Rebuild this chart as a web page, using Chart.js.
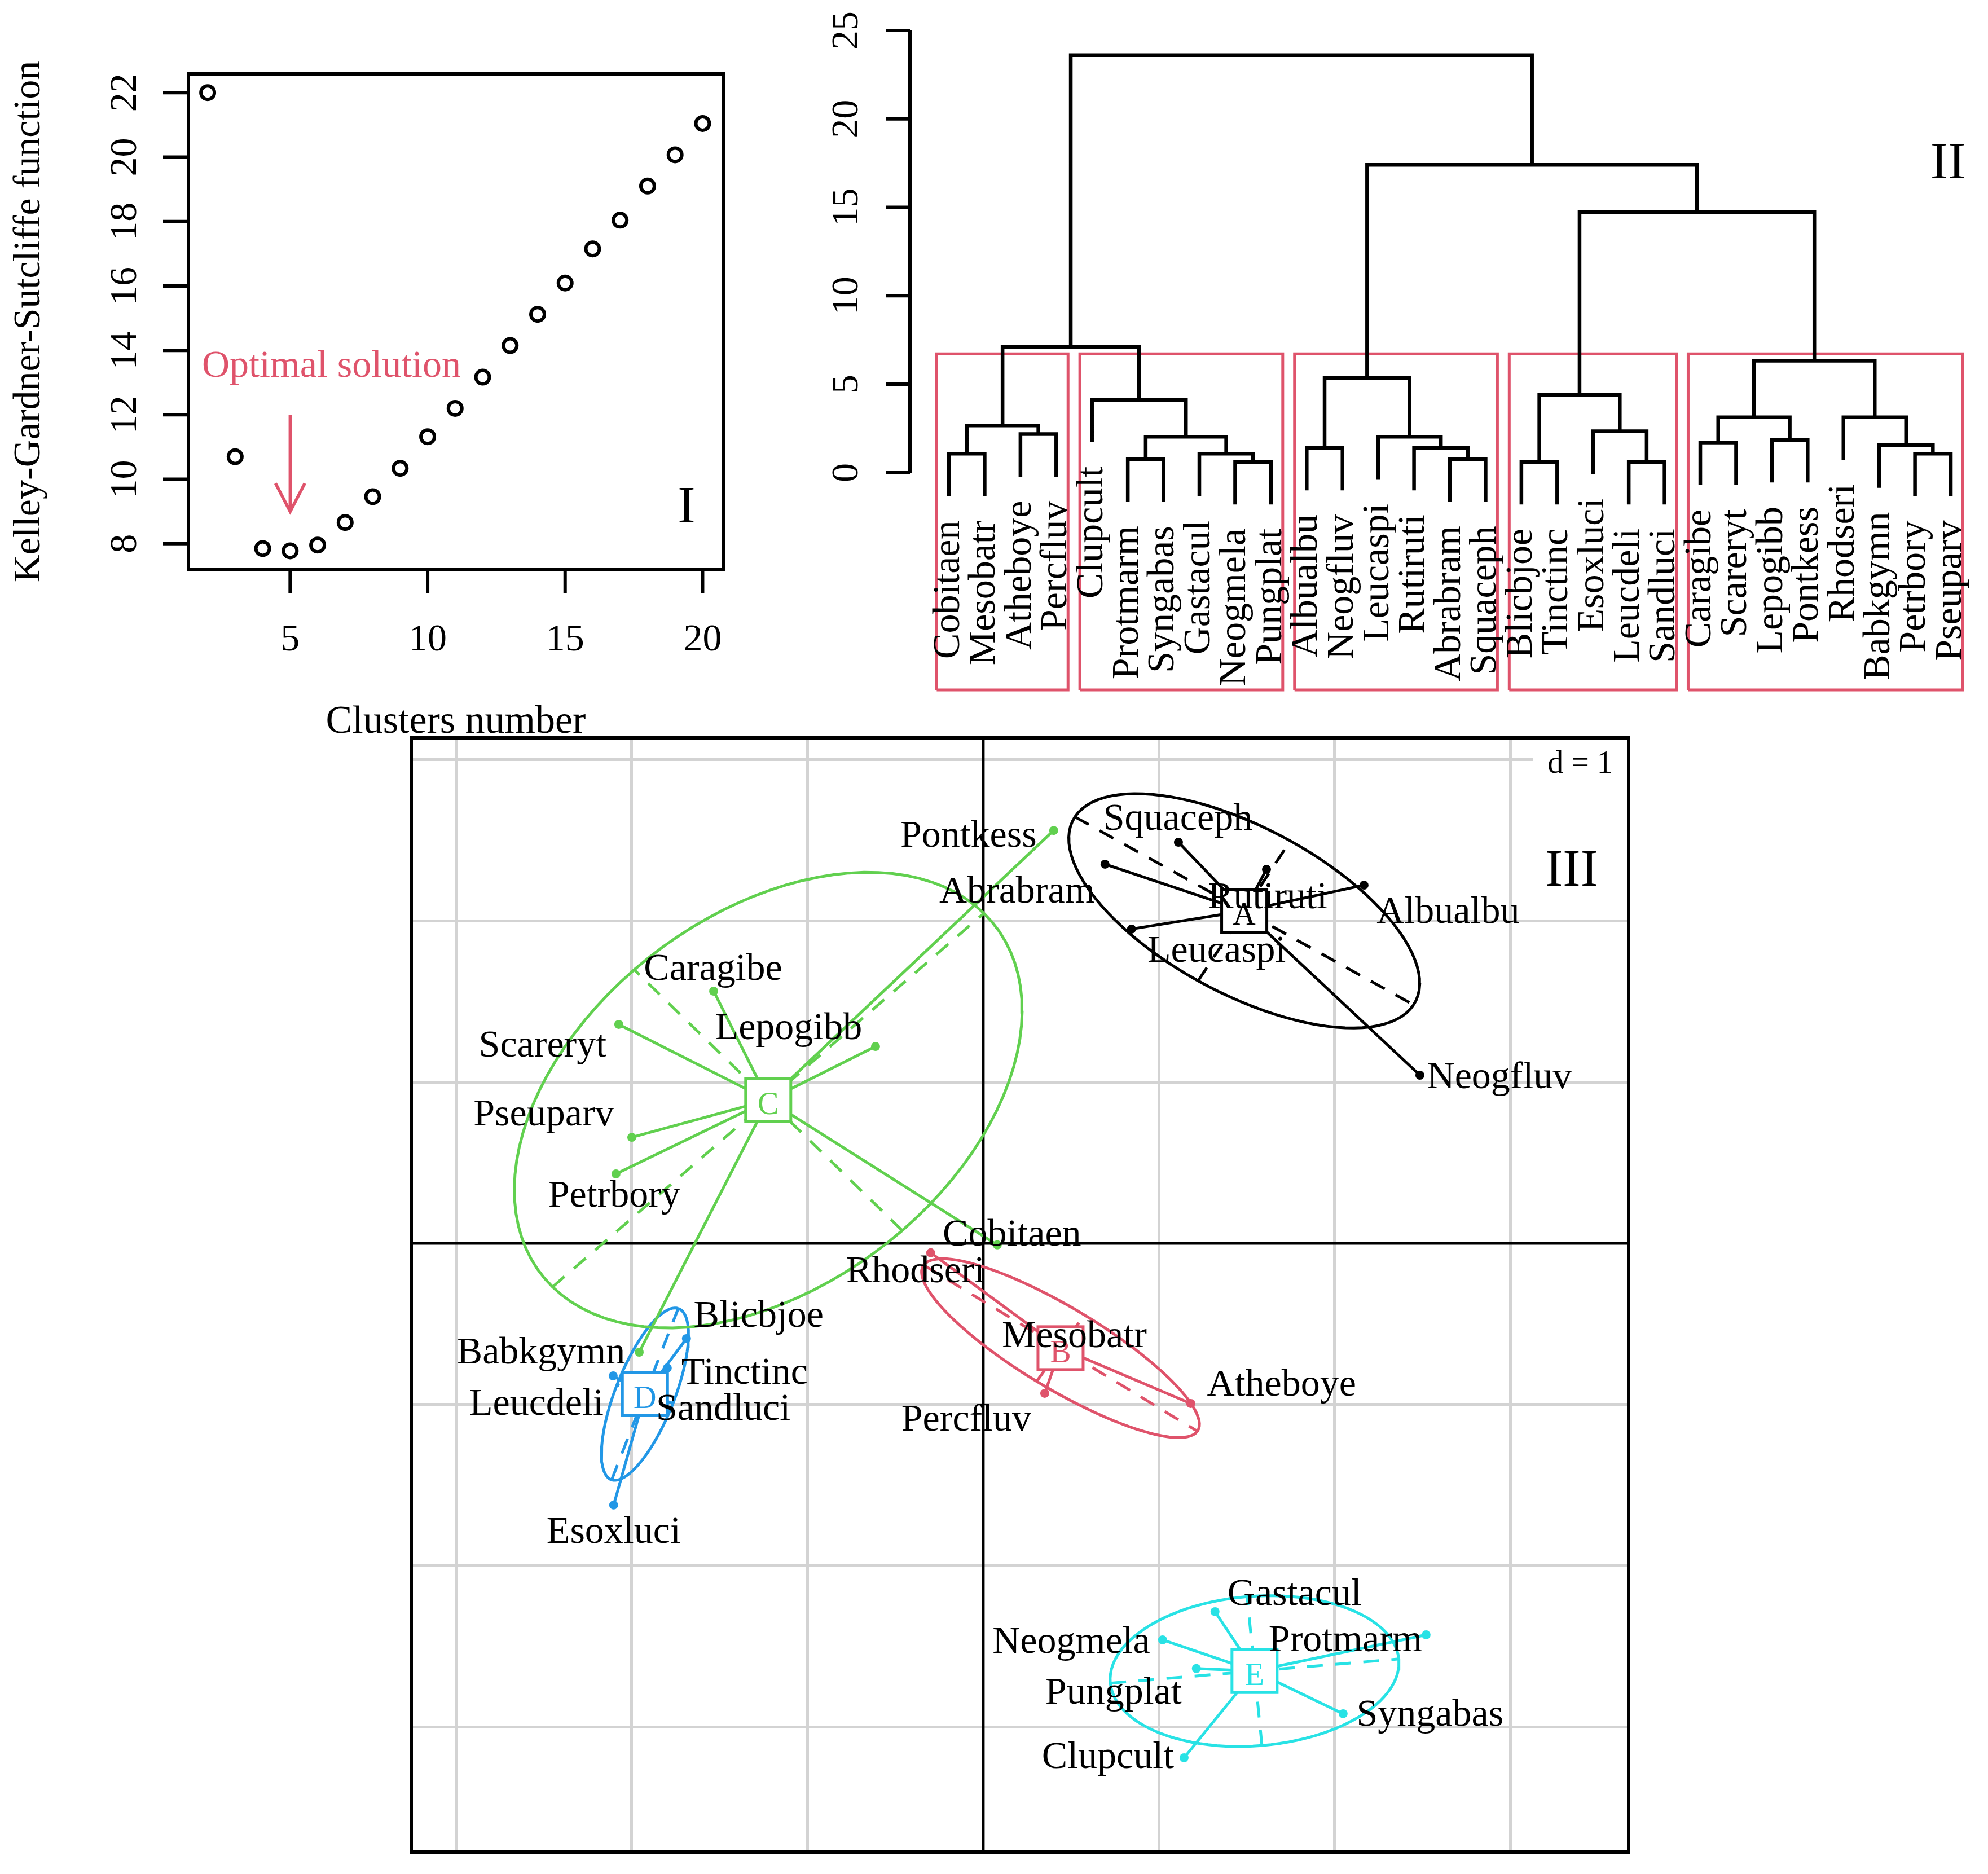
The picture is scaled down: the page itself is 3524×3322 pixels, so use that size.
<!DOCTYPE html>
<html>
<head>
<meta charset="utf-8">
<script src="https://cdn.jsdelivr.net/npm/chart.js@4.4.0/dist/chart.umd.min.js"></script>
<style>
  body { margin: 0; background: #fff; width: 3524px; height: 3322px; position: relative; overflow: hidden; }
  canvas { position: absolute; }
</style>
</head>
<body>
<canvas id="kgs" width="1400" height="1340" style="left:0px;top:0px"></canvas>
<canvas id="dendro" width="2124" height="1250" style="left:1400px;top:0px"></canvas>
<canvas id="classes" width="2300" height="2032" style="left:650px;top:1290px"></canvas>
<script>
// ---- panel I : Kelley-Gardner-Sutcliffe penalty ----
const kgsK = [2, 3, 4, 5, 6, 7, 8, 9, 10, 11, 12, 13, 14, 15, 16, 17, 18, 19, 20];
const kgsValue = [22.0, 10.7, 7.85, 7.78, 7.96, 8.66, 9.46, 10.34, 11.32, 12.2, 13.17, 14.15, 15.12, 16.09, 17.15, 18.04, 19.1, 20.07, 21.04];
const kgsXTicks = [5, 10, 15, 20];
const kgsYTicks = [8, 10, 12, 14, 16, 18, 20, 22];
const optimalK = 5;

// ---- panel II : dendrogram (leaves in plotted order, R-style merge matrix) ----
const leafLabels = ["Cobitaen", "Mesobatr", "Atheboye", "Percfluv", "Clupcult", "Protmarm", "Syngabas",
  "Gastacul", "Neogmela", "Pungplat", "Albualbu", "Neogfluv", "Leucaspi", "Rutiruti", "Abrabram",
  "Squaceph", "Blicbjoe", "Tinctinc", "Esoxluci", "Leucdeli", "Sandluci", "Caragibe", "Scareryt",
  "Lepogibb", "Pontkess", "Rhodseri", "Babkgymn", "Petrbory", "Pseuparv"];
const hcMerge = [[-1, -2], [-3, -4], [1, 2], [-6, -7], [-9, -10], [-8, 5], [4, 6], [-5, 7], [3, 8],
  [-11, -12], [-15, -16], [-14, 11], [-13, 12], [10, 13], [-17, -18], [-20, -21], [-19, 16], [15, 17],
  [-22, -23], [-24, -25], [19, 20], [-28, -29], [-27, 22], [-26, 23], [21, 24], [18, 25], [14, 26], [9, 27]];
const hcHeight = [1.07, 2.18, 2.67, 0.76, 0.61, 1.07, 2.03, 4.12, 7.11, 1.40, 0.76, 1.40, 2.03, 5.36,
  0.61, 0.61, 2.34, 4.40, 1.70, 1.85, 3.13, 1.07, 1.55, 3.13, 6.33, 14.74, 17.40, 23.60];
const heightTicks = [0, 5, 10, 15, 20, 25];
const nClusters = 5;

// ---- panel III : species scores and k-means classes ----
const species = ["Cobitaen", "Mesobatr", "Atheboye", "Percfluv", "Clupcult", "Protmarm", "Syngabas",
  "Gastacul", "Neogmela", "Pungplat", "Albualbu", "Neogfluv", "Leucaspi", "Rutiruti", "Abrabram",
  "Squaceph", "Blicbjoe", "Tinctinc", "Esoxluci", "Leucdeli", "Sandluci", "Caragibe", "Scareryt",
  "Lepogibb", "Pontkess", "Rhodseri", "Babkgymn", "Petrbory", "Pseuparv"];
const axis1 = [0.080, 0.528, 1.181, 0.350, 1.143, 2.520, 2.048, 1.319, 1.021, 1.213, 2.167, 2.485, 0.844,
  1.612, 0.693, 1.111, -1.689, -1.798, -2.103, -2.106, -1.929, -1.534, -2.074, -0.613, 0.401, -0.299,
  -1.958, -2.090, -2.000];
const axis2 = [-0.010, -0.618, -0.993, -0.930, -3.189, -2.427, -2.916, -2.283, -2.458, -2.636, 2.220, 1.042,
  1.948, 2.318, 2.350, 2.486, -0.591, -0.773, -1.622, -0.822, -0.867, 1.563, 1.357, 1.220, 2.559, -0.059,
  -0.675, 0.430, 0.657];
const classOf = ["C", "B", "B", "B", "E", "E", "E", "E", "E", "E", "A", "A", "A", "A", "A", "A", "D", "D",
  "D", "D", "D", "C", "C", "C", "C", "B", "C", "C", "C"];
const classNames = ["A", "B", "C", "D", "E"];

// ---- look ----
const SERIF = '"Liberation Serif", "DejaVu Serif", serif';
const classColor = { A: "#000000", B: "#DF536B", C: "#61D04F", D: "#2297E6", E: "#28E2E5" };
const RED = "#DF536B";
// label nudges in px from the species point
const labelNudge = {
  Pontkess: [-151, 11], Abrabram: [-156, 50], Squaceph: [-1, -40], Leucaspi: [151, 40], Rutiruti: [2, 51],
  Albualbu: [149, 49], Neogfluv: [141, 5], Caragibe: [-1, -38], Lepogibb: [-154, -31], Scareryt: [-135, 39],
  Pseuparv: [-156, -39], Petrbory: [-3, 40], Cobitaen: [26, -17], Babkgymn: [-174, 2], Rhodseri: [-27, 34],
  Mesobatr: [-3, -11], Percfluv: [-139, 48], Atheboye: [161, -32], Blicbjoe: [128, -39], Tinctinc: [137, 10],
  Leucdeli: [-136, 51], Sandluci: [140, 47], Esoxluci: [0, 49], Gastacul: [141, -30], Neogmela: [-162, 5],
  Pungplat: [-147, 44], Protmarm: [-143, 11], Syngabas: [154, 3], Clupcult: [-135, 0]
};

function txt(ctx, s, x, y, size, opts = {}) {
  ctx.save();
  ctx.font = size + "px " + SERIF;
  ctx.fillStyle = opts.color || "#000";
  ctx.textAlign = opts.align || "center";
  ctx.textBaseline = opts.baseline || "middle";
  ctx.translate(x, y);
  if (opts.rotate) ctx.rotate(opts.rotate);
  ctx.fillText(s, 0, 0);
  ctx.restore();
}

const base = {
  responsive: false,
  devicePixelRatio: 1,
  animation: false,
  events: [],
  plugins: { legend: { display: false }, tooltip: { enabled: false } },
};

// ================= panel I =================
const kgsAxes = {
  id: "kgsAxes",
  afterDatasetsDraw(chart) {
    const { ctx, chartArea: a, scales: { x, y } } = chart;
    ctx.save();
    ctx.strokeStyle = "#000";
    ctx.lineWidth = 6;
    ctx.strokeRect(a.left, a.top, a.right - a.left, a.bottom - a.top);
    ctx.beginPath();
    kgsXTicks.forEach(v => {
      const p = x.getPixelForValue(v);
      ctx.moveTo(p, a.bottom); ctx.lineTo(p, a.bottom + 43);
    });
    kgsYTicks.forEach(v => {
      const p = y.getPixelForValue(v);
      ctx.moveTo(a.left, p); ctx.lineTo(a.left - 45, p);
    });
    ctx.stroke();
    kgsXTicks.forEach(v => txt(ctx, String(v), x.getPixelForValue(v), a.bottom + 126, 68));
    kgsYTicks.forEach(v => txt(ctx, String(v), a.left - 111, y.getPixelForValue(v), 68, { rotate: -Math.PI / 2 }));
    txt(ctx, "Clusters number", (a.left + a.right) / 2, a.bottom + 272, 70);
    txt(ctx, "Kelley-Gardner-Sutcliffe function", 52, (a.top + a.bottom) / 2, 68, { rotate: -Math.PI / 2 });
    // arrow head
    const tx = x.getPixelForValue(optimalK), ty = y.getPixelForValue(9);
    ctx.strokeStyle = RED;
    ctx.lineWidth = 5.5;
    ctx.beginPath();
    ctx.moveTo(tx - 26, ty - 50); ctx.lineTo(tx, ty); ctx.lineTo(tx + 26, ty - 50);
    ctx.stroke();
    txt(ctx, "Optimal solution", x.getPixelForValue(6.5), y.getPixelForValue(13.5), 68, { color: RED });
    txt(ctx, "I", a.right - 65, a.bottom - 108, 94);
    ctx.restore();
  }
};

new Chart(document.getElementById("kgs"), {
  type: "line",
  data: {
    datasets: [
      {
        data: kgsK.map((k, i) => ({ x: k, y: kgsValue[i] })),
        showLine: false,
        pointStyle: "circle",
        pointRadius: 12,
        pointBorderWidth: 6,
        pointBorderColor: "#000",
        pointBackgroundColor: "rgba(0,0,0,0)",
      },
      {
        data: [{ x: optimalK, y: 12 }, { x: optimalK, y: 9 }],
        borderColor: RED,
        borderWidth: 5.5,
        pointRadius: 0,
      }
    ]
  },
  options: Object.assign({}, base, {
    layout: { padding: { left: 334, top: 131, right: 118, bottom: 331 } },
    scales: {
      x: { type: "linear", display: false, min: 1.3, max: 20.75 },
      y: { type: "linear", display: false, min: 7.21, max: 22.58 }
    }
  }),
  plugins: [kgsAxes]
});

// ================= panel II =================
const hang = 0.1 * (Math.max(...hcHeight) - Math.min(...hcHeight));
const mergeX = [];
hcMerge.forEach(([a, b], k) => {
  const xa = a < 0 ? -a : mergeX[a - 1];
  const xb = b < 0 ? -b : mergeX[b - 1];
  mergeX[k] = (xa + xb) / 2;
});
const leafBottom = [];
const treeLines = [];
hcMerge.forEach(([a, b], k) => {
  const h = hcHeight[k];
  const end = c => {
    if (c < 0) { leafBottom[-c] = h - hang; return [-c, h - hang]; }
    return [mergeX[c - 1], hcHeight[c - 1]];
  };
  const [xa, ya] = end(a), [xb, yb] = end(b);
  treeLines.push({ x: xa, y: ya }, { x: xa, y: h }, { x: xb, y: h }, { x: xb, y: yb }, { x: xb, y: null });
});
// rect.hclust style boxes for k clusters
const byHeight = hcHeight.map((h, i) => i).sort((p, q) => hcHeight[q] - hcHeight[p]);
const cutSet = new Set(byHeight.slice(0, nClusters - 1));
const boxTop = (hcHeight[byHeight[nClusters - 2]] + hcHeight[byHeight[nClusters - 1]]) / 2;
function leafRange(c) {
  if (c < 0) return [-c, -c];
  const [a, b] = hcMerge[c - 1];
  const r1 = leafRange(a), r2 = leafRange(b);
  return [Math.min(r1[0], r2[0]), Math.max(r1[1], r2[1])];
}
const dendroYMin = -12.28;
const boxLines = [];
cutSet.forEach(k => hcMerge[k].forEach(c => {
  if (c > 0 && cutSet.has(c - 1)) return;
  const [lo, hi] = leafRange(c);
  const x0 = lo - 0.34, x1 = hi + 0.33;
  boxLines.push({ x: x0, y: dendroYMin }, { x: x0, y: boxTop }, { x: x1, y: boxTop }, { x: x1, y: dendroYMin },
    { x: x0, y: dendroYMin }, { x: x0, y: null });
}));

const dendroAxes = {
  id: "dendroAxes",
  afterDatasetsDraw(chart) {
    const { ctx, chartArea: a, scales: { x, y } } = chart;
    ctx.save();
    ctx.strokeStyle = "#000";
    ctx.lineWidth = 6;
    ctx.beginPath();
    ctx.moveTo(a.left, y.getPixelForValue(heightTicks[0]));
    ctx.lineTo(a.left, y.getPixelForValue(heightTicks[heightTicks.length - 1]));
    heightTicks.forEach(v => {
      const p = y.getPixelForValue(v);
      ctx.moveTo(a.left, p); ctx.lineTo(a.left - 43, p);
    });
    ctx.stroke();
    heightTicks.forEach(v => txt(ctx, String(v), a.left - 111, y.getPixelForValue(v), 68, { rotate: -Math.PI / 2 }));
    leafLabels.forEach((s, i) => {
      const px = x.getPixelForValue(i + 1);
      const py = y.getPixelForValue(leafBottom[i + 1]) + 46;
      txt(ctx, s, px, py, 68, { rotate: -Math.PI / 2, align: "right" });
    });
    txt(ctx, "II", 2053, 291, 94);
    ctx.restore();
  }
};

new Chart(document.getElementById("dendro"), {
  type: "line",
  data: {
    datasets: [
      { data: treeLines, borderColor: "#000", borderWidth: 6.5, pointRadius: 0, borderCapStyle: "square", clip: false },
      { data: boxLines, borderColor: RED, borderWidth: 5, pointRadius: 0, clip: false }
    ]
  },
  options: Object.assign({}, base, {
    layout: { padding: { left: 213, top: 0, right: 0, bottom: 27 } },
    scales: {
      x: { type: "linear", display: false, min: -0.088, max: 30.04 },
      y: { type: "linear", display: false, min: dendroYMin, max: 26.72 }
    }
  }),
  plugins: [dendroAxes]
});

// ================= panel III =================
function classGeometry(g) {
  const idx = classOf.map((c, i) => c === g ? i : -1).filter(i => i >= 0);
  const n = idx.length;
  const px = idx.map(i => axis1[i]), py = idx.map(i => axis2[i]);
  const mx = px.reduce((s, v) => s + v, 0) / n, my = py.reduce((s, v) => s + v, 0) / n;
  let vx = 0, vy = 0, cxy = 0;
  for (let i = 0; i < n; i++) {
    vx += (px[i] - mx) ** 2 / n;
    vy += (py[i] - my) ** 2 / n;
    cxy += (px[i] - mx) * (py[i] - my) / n;
  }
  const delta = Math.sqrt((vx - vy) ** 2 + 4 * cxy * cxy);
  const l1 = (vx + vy + delta) / 2, l2 = vx + vy - l1;
  const s1 = Math.sqrt(Math.max(l1, 0)), s2 = Math.sqrt(Math.max(l2, 0));
  let a0 = 1, b0 = 0;
  if (Math.abs(cxy) < 1e-10) { if (vx <= vy) { a0 = 0; b0 = 1; } }
  else { b0 = (l1 - vx) / cxy; const nr = Math.hypot(a0, b0); a0 /= nr; b0 /= nr; }
  const k = 1.5;
  const c11 = k * a0 * s1, c12 = -k * b0 * s2, c21 = k * b0 * s1, c22 = k * a0 * s2;
  const outline = [];
  for (let i = 0; i <= 100; i++) {
    const t = 2 * Math.PI * i / 100;
    outline.push({ x: mx + c11 * Math.cos(t) + c12 * Math.sin(t), y: my + c21 * Math.cos(t) + c22 * Math.sin(t) });
  }
  const axes = [{ x: mx - c11, y: my - c21 }, { x: mx + c11, y: my + c21 }, { x: mx, y: null },
    { x: mx - c12, y: my - c22 }, { x: mx + c12, y: my + c22 }];
  const star = [];
  idx.forEach(i => star.push({ x: mx, y: my }, { x: axis1[i], y: axis2[i] }, { x: mx, y: null }));
  const pts = idx.map(i => ({ x: axis1[i], y: axis2[i] }));
  return { mx, my, outline, axes, star, pts };
}

const geo = {};
const classSets = [];
classNames.forEach(g => {
  const G = classGeometry(g);
  geo[g] = G;
  const col = classColor[g];
  classSets.push(
    { data: G.pts, showLine: false, pointRadius: 8, pointBorderWidth: 0, pointBackgroundColor: col, order: 0 },
    { data: G.star, borderColor: col, borderWidth: 5, pointRadius: 0, order: 1 },
    { data: G.outline, borderColor: col, borderWidth: 5, pointRadius: 0, order: 2 },
    { data: G.axes, borderColor: col, borderWidth: 5, borderDash: [28, 22], pointRadius: 0, order: 2 }
  );
});

const classDecor = {
  id: "classDecor",
  beforeDatasetsDraw(chart) {
    const { ctx, chartArea: a, scales: { x, y } } = chart;
    ctx.save();
    ctx.strokeStyle = "#000";
    ctx.lineWidth = 5;
    ctx.beginPath();
    const x0 = x.getPixelForValue(0), y0 = y.getPixelForValue(0);
    ctx.moveTo(x0, a.top); ctx.lineTo(x0, a.bottom);
    ctx.moveTo(a.left, y0); ctx.lineTo(a.right, y0);
    ctx.stroke();
    ctx.fillStyle = "#fff";
    ctx.fillRect(a.right - 170, a.top, 170, 86);
    txt(ctx, "d = 1", a.right - 86, a.top + 47, 56);
    ctx.restore();
  },
  afterDatasetsDraw(chart) {
    const { ctx, chartArea: a, scales: { x, y } } = chart;
    ctx.save();
    classNames.forEach(g => {
      const cx = x.getPixelForValue(geo[g].mx), cy = y.getPixelForValue(geo[g].my);
      ctx.fillStyle = "#fff";
      ctx.fillRect(cx - 40, cy - 38, 80, 76);
      ctx.strokeStyle = classColor[g];
      ctx.lineWidth = 5;
      ctx.strokeRect(cx - 40, cy - 38, 80, 76);
      txt(ctx, g, cx, cy + 10, 56, { color: classColor[g] });
    });
    species.forEach((s, i) => {
      const nd = labelNudge[s] || [0, 0];
      txt(ctx, s, x.getPixelForValue(axis1[i]) + nd[0], y.getPixelForValue(axis2[i]) + nd[1], 68);
    });
    ctx.strokeStyle = "#000";
    ctx.lineWidth = 6;
    ctx.strokeRect(a.left, a.top, a.right - a.left, a.bottom - a.top);
    txt(ctx, "III", a.right - 101, a.top + 237, 94);
    ctx.restore();
  }
};

new Chart(document.getElementById("classes"), {
  type: "line",
  data: { datasets: classSets },
  options: Object.assign({}, base, {
    layout: { padding: { left: 79, top: 18, right: 63, bottom: 39 } },
    scales: {
      x: {
        type: "linear", min: -3.255, max: 3.673,
        ticks: { display: false, stepSize: 1, includeBounds: false },
        grid: { color: "#D3D3D3", lineWidth: 5, drawTicks: false },
        border: { display: false }
      },
      y: {
        type: "linear", min: -3.773, max: 3.133,
        ticks: { display: false, stepSize: 1, includeBounds: false },
        grid: { color: "#D3D3D3", lineWidth: 5, drawTicks: false },
        border: { display: false }
      }
    }
  }),
  plugins: [classDecor]
});
</script>
</body>
</html>
